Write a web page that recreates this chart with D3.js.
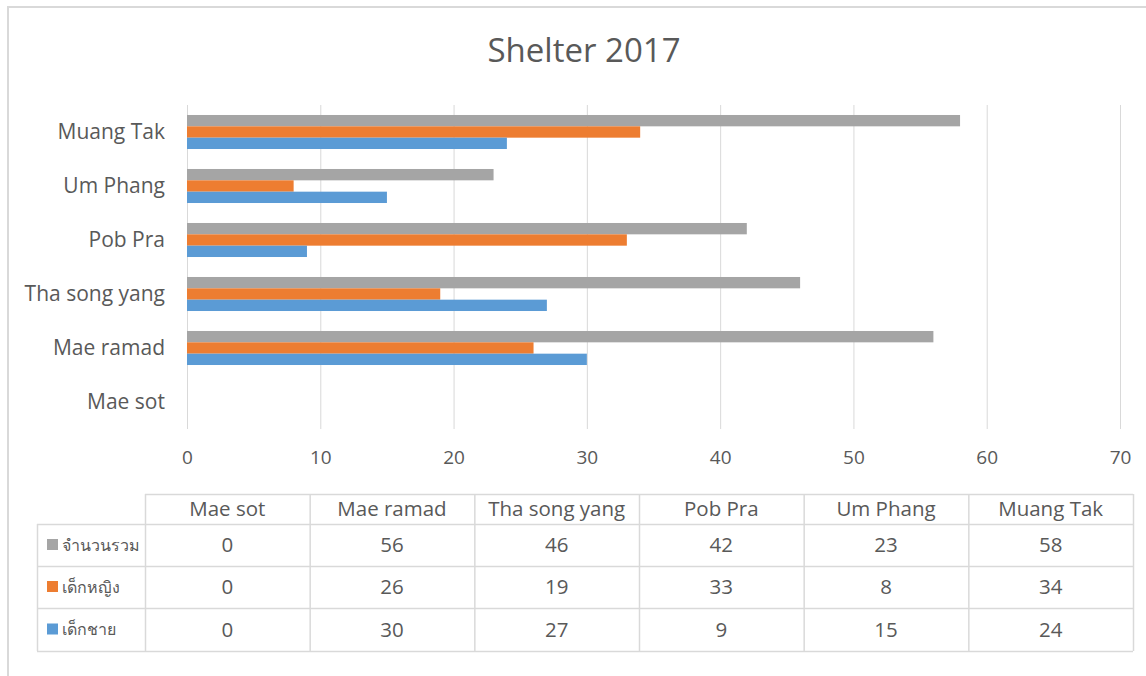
<!DOCTYPE html>
<html><head><meta charset="utf-8">
<script src="https://cdn.jsdelivr.net/npm/d3@7"></script>
<style>
body{margin:0;background:#fff;}
svg{display:block;font-family:"Open Sans","Noto Sans",sans-serif;}
</style></head>
<body><svg id="c" width="1146" height="676"></svg>
<script>
const title = "Shelter 2017";
const categories = ["Mae sot","Mae ramad","Tha song yang","Pob Pra","Um Phang","Muang Tak"];
const seriesNames = ["จำนวนรวม","เด็กหญิง","เด็กชาย"];
const totalValues = [0,56,46,42,23,58];
const girlValues = [0,26,19,33,8,34];
const boyValues = [0,30,27,9,15,24];
const seriesColors = ["#A5A5A5","#ED7D31","#5B9BD5"];
const xTicks = [0,10,20,30,40,50,60,70];

const series = [
  {name: seriesNames[0], values: totalValues, color: seriesColors[0]},
  {name: seriesNames[1], values: girlValues, color: seriesColors[1]},
  {name: seriesNames[2], values: boyValues, color: seriesColors[2]}
];

const svg = d3.select("#c");
const textColor = "#595959";
const gridColor = "#d9d9d9";

svg.append("rect").attr("x",8).attr("y",7).attr("width",1160).attr("height",700)
  .attr("fill","#fff").attr("stroke","#d9d9d9").attr("stroke-width",2);

svg.append("text").attr("x",584).attr("y",62).attr("text-anchor","middle")
  .attr("font-size",33).attr("fill",textColor).text(title);

const x = d3.scaleLinear().domain([0,70]).range([187,1120]);
const y = d3.scaleBand().domain(categories.slice().reverse()).range([105,429])
  .paddingInner(0.37).paddingOuter(0.185);
const ySub = d3.scaleBand().domain(seriesNames).range([0,y.bandwidth()]);

// gridlines
svg.append("g").selectAll("line").data(xTicks).join("line")
  .attr("x1",d=>x(d)+0.5).attr("x2",d=>x(d)+0.5).attr("y1",105).attr("y2",429)
  .attr("stroke",gridColor).attr("stroke-width",1);

// bars
const gCat = svg.append("g").selectAll("g").data(categories).join("g")
  .attr("transform",c=>`translate(0,${y(c)})`);
gCat.selectAll("rect").data((c,i)=>series.map(s=>({s, v:s.values[i]}))).join("rect")
  .attr("x",x(0)).attr("y",d=>ySub(d.s.name)).attr("height",ySub.bandwidth())
  .attr("width",d=>x(d.v)-x(0)).attr("fill",d=>d.s.color);

// x axis
const xAxis = svg.append("g").attr("transform","translate(0,429)")
  .call(d3.axisBottom(x).tickValues(xTicks).tickSize(0).tickPadding(22));
xAxis.select(".domain").remove();
xAxis.selectAll("text").attr("font-size",19).attr("fill",textColor)
  .attr("font-family","'Open Sans','Noto Sans',sans-serif");

// y axis
const yAxis = svg.append("g").attr("transform","translate(187,0)")
  .call(d3.axisLeft(y).tickSize(0).tickPadding(22));
yAxis.select(".domain").remove();
yAxis.selectAll("text").attr("font-size",21).attr("fill",textColor)
  .attr("font-family","'Open Sans','Noto Sans',sans-serif");

// data table
const colX = d3.scaleBand().domain(categories).range([145,1133]);
const rowTops = [494,524,566,608];
const rowBottom = 651;
const legendLeft = 37;
const tbl = svg.append("g");
tbl.append("line").attr("x1",145).attr("x2",1133).attr("y1",rowTops[0]+0.5).attr("y2",rowTops[0]+0.5);
[rowTops[1],rowTops[2],rowTops[3],rowBottom].forEach(yy=>{
  tbl.append("line").attr("x1",legendLeft).attr("x2",1133).attr("y1",yy+0.5).attr("y2",yy+0.5);
});
tbl.append("line").attr("x1",legendLeft+0.5).attr("x2",legendLeft+0.5).attr("y1",rowTops[1]).attr("y2",rowBottom);
categories.concat(["_end"]).forEach((c,i)=>{
  const xx = i<categories.length ? colX(c) : colX.range()[1];
  tbl.append("line").attr("x1",xx+0.5).attr("x2",xx+0.5).attr("y1",rowTops[0]).attr("y2",rowBottom);
});
tbl.selectAll("line").attr("stroke",gridColor).attr("stroke-width",1.5);

tbl.selectAll("text.h").data(categories).join("text").attr("class","h")
  .attr("x",c=>colX(c)+colX.bandwidth()/2).attr("y",(rowTops[0]+rowTops[1])/2)
  .attr("dy","0.36em").attr("text-anchor","middle").attr("font-size",20.5)
  .attr("fill",textColor).text(c=>c);

series.forEach((s,r)=>{
  const cy = (rowTops[r+1] + (rowTops[r+2]||rowBottom))/2;
  tbl.append("rect").attr("x",47).attr("y",cy-6).attr("width",11).attr("height",11).attr("fill",s.color);
  tbl.append("text").attr("x",62).attr("y",cy).attr("dy","0.36em").attr("font-size",16)
    .attr("fill",textColor).text(s.name);
  tbl.selectAll(null).data(s.values).join("text")
    .attr("x",(v,i)=>colX(categories[i])+colX.bandwidth()/2).attr("y",cy)
    .attr("dy","0.36em").attr("text-anchor","middle").attr("font-size",20.5)
    .attr("fill",textColor).text(v=>v);
});
</script></body></html>
